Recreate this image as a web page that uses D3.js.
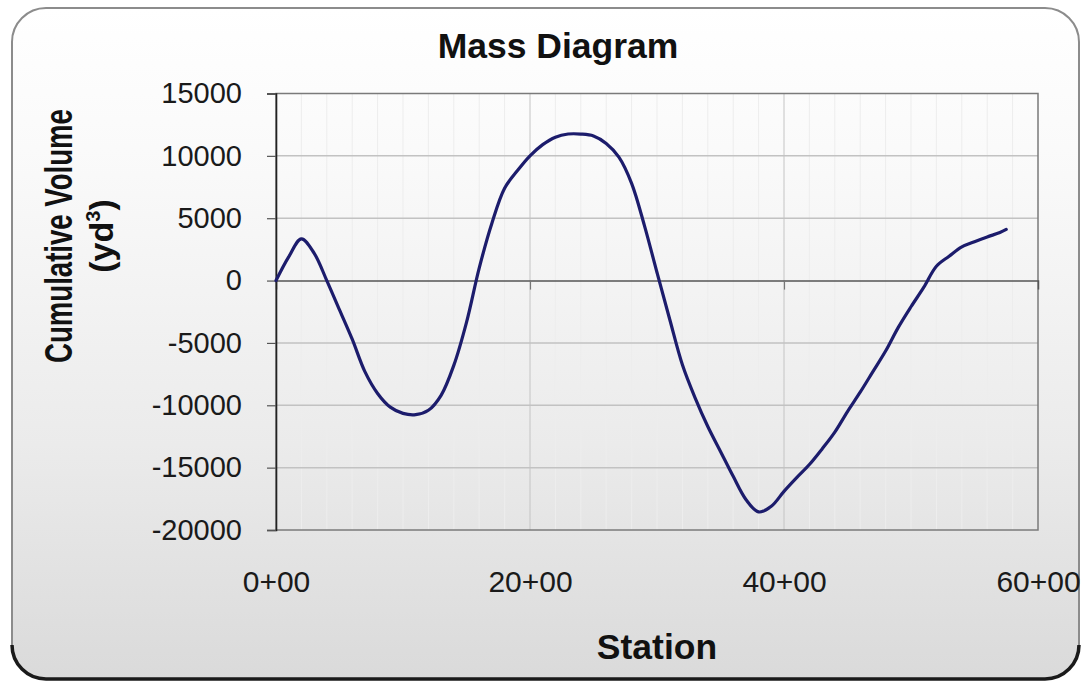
<!DOCTYPE html>
<html>
<head>
<meta charset="utf-8">
<script src="https://cdn.jsdelivr.net/npm/d3@7"></script>
<style>
  html, body { margin: 0; padding: 0; background: #ffffff; }
  svg { display: block; }
  text { font-family: "Liberation Sans", Arial, Helvetica, sans-serif; }
</style>
</head>
<body>
<svg id="chart" width="1081" height="684"></svg>
<script>
// ---- data ----
const stations = [0,100,200,300,400,500,600,700,800,900,1000,1100,1200,1300,1400,1500,1600,1700,1800,1900,
  2000,2100,2200,2300,2400,2500,2600,2700,2800,2900,3000,3100,3200,3300,3400,3500,3600,3700,3800,3900,
  4000,4100,4200,4300,4400,4500,4600,4700,4800,4900,5000,5100,5200,5300,5400,5500,5600,5700,5750];
const cumulativeVolume = [0,1900,3350,2200,0,-2350,-4700,-7300,-9050,-10150,-10650,-10750,-10400,-9200,-6800,-3350,1000,4600,7400,8800,
  10000,10900,11500,11750,11750,11600,11000,9900,7800,4450,650,-3100,-6750,-9400,-11700,-13700,-15700,-17550,-18550,-18100,
  -16900,-15800,-14750,-13500,-12150,-10500,-8950,-7300,-5650,-3750,-2100,-550,1150,1950,2700,3120,3500,3850,4100];
const yTicks = [-20000,-15000,-10000,-5000,0,5000,10000,15000];
const xTicks = [0,2000,4000,6000];
const xTickLabels = ["0+00","20+00","40+00","60+00"];
const minorXTicks = d3.range(200, 6000, 200);
const titleText = "Mass Diagram";
const xTitle = "Station";
const yTitle1 = "Cumulative Volume";

// ---- layout ----
const W = 1081, H = 684;
const plot = { left: 276, right: 1038, top: 93.5, bottom: 530 };

const svg = d3.select("#chart");
const defs = svg.append("defs");
const bg = defs.append("linearGradient").attr("id","bg").attr("x1",0).attr("y1",0).attr("x2",0).attr("y2",1);
bg.append("stop").attr("offset","0%").attr("stop-color","#ffffff");
bg.append("stop").attr("offset","25%").attr("stop-color","#f9f9f9");
bg.append("stop").attr("offset","65%").attr("stop-color","#ebebeb");
bg.append("stop").attr("offset","100%").attr("stop-color","#dadada");

// outer frame
svg.append("rect").attr("x",12).attr("y",8).attr("width",1067).attr("height",671)
  .attr("rx",34).attr("ry",34).attr("fill","url(#bg)").attr("stroke","#8c8c8c").attr("stroke-width",2);
// dark bottom/right shadow edge
svg.append("path")
  .attr("d","M 12 645 A 34 34 0 0 0 46 679 L 1045 679 A 34 34 0 0 0 1079 645")
  .attr("fill","none").attr("stroke","#1a1a1a").attr("stroke-width",3.5);

const x = d3.scaleLinear().domain([0,6000]).range([plot.left, plot.right]);
const y = d3.scaleLinear().domain([-20000,15000]).range([plot.bottom, plot.top]);

// minor vertical gridlines
svg.append("g").selectAll("line").data(minorXTicks.filter(d => d % 2000 !== 0)).join("line")
  .attr("x1", d => x(d)).attr("x2", d => x(d)).attr("y1", plot.top).attr("y2", plot.bottom)
  .attr("stroke","#ededed").attr("stroke-width",1);
// major vertical gridlines
svg.append("g").selectAll("line").data([2000,4000]).join("line")
  .attr("x1", d => x(d)).attr("x2", d => x(d)).attr("y1", plot.top).attr("y2", plot.bottom)
  .attr("stroke","#c4c4c4").attr("stroke-width",1);
// horizontal gridlines
svg.append("g").selectAll("line").data(yTicks.filter(d => d !== 0 && d !== 15000 && d !== -20000)).join("line")
  .attr("x1", plot.left).attr("x2", plot.right).attr("y1", d => y(d)).attr("y2", d => y(d))
  .attr("stroke","#c2c2c2").attr("stroke-width",1.5);

// plot border
svg.append("rect").attr("x",plot.left).attr("y",plot.top)
  .attr("width",plot.right-plot.left).attr("height",plot.bottom-plot.top)
  .attr("fill","none").attr("stroke","#7a7a7a").attr("stroke-width",1.5);

// zero axis with ticks
const zeroAxis = svg.append("g").attr("transform",`translate(0,${y(0)})`)
  .call(d3.axisBottom(x).tickValues([2000,4000]).tickSize(9).tickFormat(""));
zeroAxis.select(".domain").attr("stroke","#555").attr("stroke-width",1.5);
zeroAxis.selectAll(".tick line").attr("stroke","#777").attr("stroke-width",1.2);

// y axis
const yAxis = svg.append("g").attr("transform",`translate(${plot.left},0)`)
  .call(d3.axisLeft(y).tickValues(yTicks).tickSize(9).tickPadding(25).tickFormat(d => String(d)));
yAxis.select(".domain").attr("stroke","#222").attr("stroke-width",1.6);
yAxis.selectAll(".tick line").attr("stroke","#555").attr("stroke-width",1.2);
yAxis.selectAll(".tick text").attr("font-size",29).attr("fill","#1a1a1a")
  .attr("font-family","'Liberation Sans', Arial, sans-serif");

// x axis labels (bottom)
const xAxis = svg.append("g").attr("transform",`translate(0,${plot.bottom})`)
  .call(d3.axisBottom(x).tickValues(xTicks).tickSize(0).tickPadding(41).tickFormat((d,i) => xTickLabels[i]));
xAxis.select(".domain").remove();
xAxis.selectAll(".tick text").attr("font-size",30).attr("fill","#1a1a1a")
  .attr("font-family","'Liberation Sans', Arial, sans-serif");

// line
const line = d3.line().x((d,i) => x(stations[i])).y(d => y(d)).curve(d3.curveCatmullRom.alpha(0.5));
svg.append("path").datum(cumulativeVolume).attr("d", line)
  .attr("fill","none").attr("stroke","#1c1c6c").attr("stroke-width",3.2)
  .attr("stroke-linejoin","round").attr("stroke-linecap","round");

// titles
svg.append("text").attr("x",558).attr("y",58).attr("text-anchor","middle")
  .attr("font-size",35.5).attr("font-weight","bold").attr("fill","#111").text(titleText);
svg.append("text").attr("x",(plot.left+plot.right)/2).attr("y",659).attr("text-anchor","middle")
  .attr("font-size",35.5).attr("font-weight","bold").attr("fill","#111").text(xTitle);

// y-axis title: rotated, horizontally condensed to fit 254 px
const yt = svg.append("g").attr("transform","translate(72,236) rotate(-90)");
const yt1g = yt.append("g");
const yt1 = yt1g.append("text").attr("x",0).attr("y",0).attr("text-anchor","middle")
  .attr("font-size",39).attr("font-weight","bold").attr("fill","#111").text(yTitle1);
const natural = yt1.node().getComputedTextLength();
yt1g.attr("transform",`scale(${254/natural},1)`);
const t2 = yt.append("text").attr("x",0).attr("y",41).attr("text-anchor","middle")
  .attr("font-size",34).attr("font-weight","bold").attr("fill","#111");
t2.append("tspan").text("(yd");
t2.append("tspan").attr("font-size",20).attr("dy",-13).text("3");
t2.append("tspan").attr("dy",13).text(")");
</script>
</body>
</html>
